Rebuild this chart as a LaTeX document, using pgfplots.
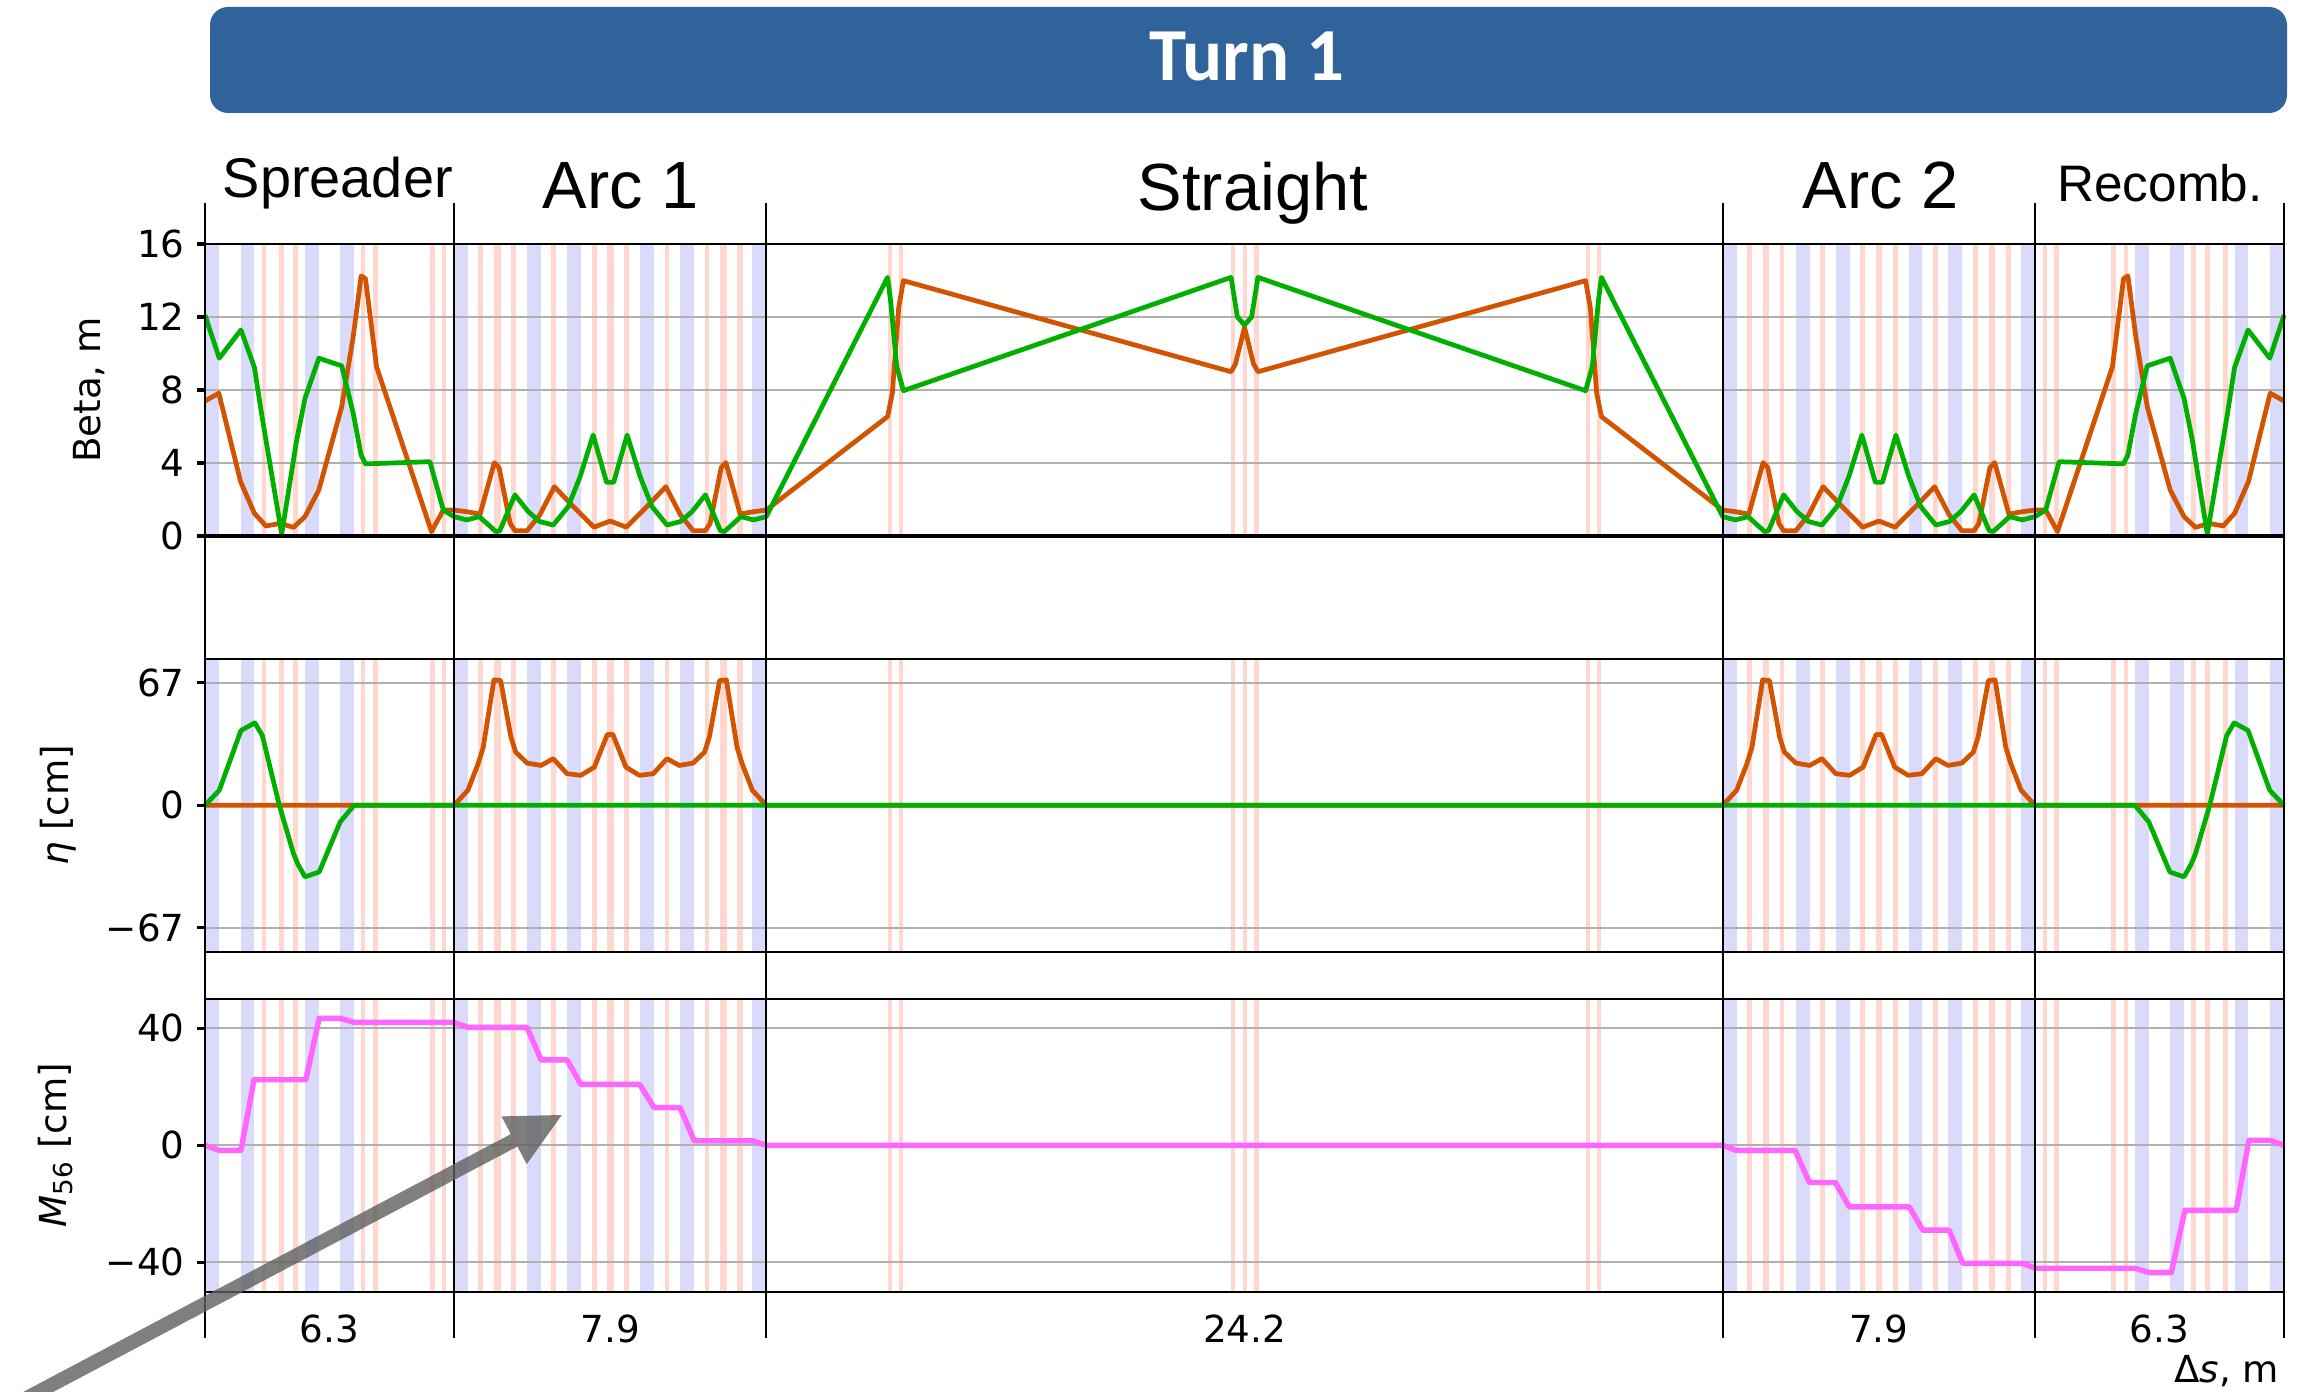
\documentclass[border=0pt]{standalone}
\usepackage{pgfplots}
\pgfplotsset{compat=1.18}
\usepackage{fontspec}
\setmainfont{DejaVu Sans}
\newfontfamily\arialfont{Liberation Sans}
\newfontfamily\calfont{Carlito}

\definecolor{cOrange}{RGB}{211,84,0}
\definecolor{cGreen}{RGB}{0,175,0}
\definecolor{cMag}{RGB}{255,102,255}
\definecolor{bandBlue}{RGB}{218,218,251}
\definecolor{bandPink}{RGB}{255,215,206}
\definecolor{gridGray}{RGB}{176,176,176}
\definecolor{bannerBlue}{RGB}{47,99,154}
\definecolor{arrowGray}{RGB}{95,95,95}

\newcommand\bb[2]{\fill[bandBlue] (axis cs:#1,\bandlo) rectangle (axis cs:#2,\bandhi);}
\newcommand\pb[2]{\fill[bandPink] (axis cs:#1,\bandlo) rectangle (axis cs:#2,\bandhi);}
\newcommand\hgrid[1]{\draw[gridGray, line width=0.55pt] (axis cs:0,#1) -- (axis cs:52.6,#1);}
\newcommand\allbands{%
 \bb{0}{0.35}\bb{0.90}{1.25}\bb{2.53}{2.88}\bb{3.42}{3.77}%
 \pb{1.43}{1.55}\pb{1.88}{1.99}\pb{2.23}{2.35}\pb{3.94}{4.06}\pb{4.25}{4.37}\pb{5.69}{5.81}\pb{6.00}{6.11}%
 \bb{6.30}{6.65}\bb{8.15}{8.50}\bb{9.16}{9.51}\bb{11.00}{11.35}\bb{12.01}{12.36}\bb{13.85}{14.20}%
 \pb{6.91}{7.04}\pb{7.31}{7.48}\pb{7.74}{7.86}\pb{8.76}{8.88}\pb{9.78}{9.91}\pb{10.17}{10.34}\pb{10.60}{10.73}\pb{11.63}{11.75}\pb{12.64}{12.76}\pb{13.03}{13.20}\pb{13.47}{13.60}%
 \pb{17.27}{17.38}\pb{17.56}{17.67}\pb{25.96}{26.07}\pb{26.25}{26.36}\pb{26.55}{26.66}\pb{34.93}{35.04}\pb{35.22}{35.33}%
 \bb{38.40}{38.75}\bb{40.25}{40.60}\bb{41.26}{41.61}\bb{43.10}{43.45}\bb{44.11}{44.46}\bb{45.95}{46.30}%
 \pb{39.01}{39.14}\pb{39.41}{39.58}\pb{39.84}{39.96}\pb{40.86}{40.98}\pb{41.88}{42.01}\pb{42.27}{42.44}\pb{42.70}{42.83}\pb{43.73}{43.85}\pb{44.74}{44.86}\pb{45.13}{45.30}\pb{45.57}{45.70}%
 \bb{48.83}{49.18}\bb{49.72}{50.07}\bb{51.35}{51.70}\bb{52.25}{52.60}%
 \pb{46.49}{46.60}\pb{46.79}{46.91}\pb{48.23}{48.35}\pb{48.54}{48.66}\pb{50.25}{50.37}\pb{50.61}{50.72}\pb{51.05}{51.17}%
}

\pgfplotsset{
 panel/.style={
  scale only axis, anchor=south west, width=20.79cm, xmin=0, xmax=52.6,
  xtick=\empty, ytick pos=left, tick align=outside, major tick length=0.08cm,
  every tick/.style={black, line width=0.9pt},
  axis line style={black, line width=0.55pt},
  tick label style={font=\fontsize{10.6}{12}\selectfont},
  label style={font=\fontsize{10.6}{12}\selectfont},
  /pgf/number format/assume math mode=true,
  axis on top, clip=false,
 },
 oline/.style={cOrange, line width=1.35pt, line join=round},
 gline/.style={cGreen, line width=1.35pt, line join=round},
}

\begin{document}
\begin{tikzpicture}[x=1cm,y=1cm]
\path[use as bounding box] (0,0) rectangle (23.06,13.92);
\clip (0,0) rectangle (23.06,13.92);

% title banner
\fill[bannerBlue, rounded corners=0.18cm] (2.10,12.79) rectangle (22.87,13.85);
\node[anchor=base, text=white, inner sep=0pt, font=\calfont\bfseries\fontsize{21.3}{25}\selectfont] at (12.47,13.11) {Turn 1};

% ---------- Beta panel ----------
\def\bandlo{0}\def\bandhi{16}
\begin{axis}[panel, at={(2.05cm,8.56cm)}, height=2.92cm, ymin=0, ymax=16,
  ytick={0,4,8,12,16}, yticklabels={0,4,8,12,16},
  ylabel={Beta, m}, ylabel style={at={(axis description cs:-0.0558,0.5)}, anchor=center}]
\allbands
\hgrid{4}\hgrid{8}\hgrid{12}
\addplot[oline] coordinates {
(0,7.40)(0.35,7.82)(0.90,2.98)(1.25,1.24)(1.54,0.55)(1.90,0.69)(2.24,0.47)(2.53,1.06)(2.88,2.52)(3.46,7.09)(3.75,10.92)(3.95,14.25)(4.06,14.10)(4.34,9.28)(5.73,0.24)(6.03,1.42)(6.30,1.42)
(6.62,1.33)(6.96,1.20)(7.32,4.02)(7.44,3.75)(7.72,0.69)(7.84,0.29)(8.15,0.29)(8.47,1.15)(8.84,2.70)(9.32,1.61)(9.84,0.48)(10.25,0.82)(10.66,0.48)(11.18,1.61)(11.66,2.70)(12.03,1.15)(12.35,0.29)(12.66,0.29)(12.78,0.69)(13.06,3.75)(13.18,4.02)(13.54,1.20)(13.88,1.33)(14.20,1.42)
(17.27,6.54)(17.39,7.82)(17.55,12.5)(17.67,13.99)(25.96,9.00)(26.07,9.42)(26.30,11.43)(26.53,9.42)(26.64,9.00)(34.93,13.99)(35.05,12.5)(35.21,7.82)(35.33,6.54)(38.40,1.42)
(38.72,1.33)(39.06,1.20)(39.42,4.02)(39.54,3.75)(39.82,0.69)(39.94,0.29)(40.25,0.29)(40.57,1.15)(40.94,2.70)(41.42,1.61)(41.94,0.48)(42.35,0.82)(42.76,0.48)(43.28,1.61)(43.76,2.70)(44.13,1.15)(44.45,0.29)(44.76,0.29)(44.88,0.69)(45.16,3.75)(45.28,4.02)(45.64,1.20)(45.98,1.33)(46.30,1.42)
(46.57,1.42)(46.87,0.24)(48.26,9.28)(48.54,14.10)(48.65,14.25)(48.85,10.92)(49.14,7.09)(49.72,2.52)(50.07,1.06)(50.36,0.47)(50.70,0.69)(51.06,0.55)(51.35,1.24)(51.70,2.98)(52.25,7.82)(52.60,7.40)
};
\addplot[gline] coordinates {
(0,12.10)(0.36,9.74)(0.91,11.29)(1.25,9.24)(1.43,6.72)(1.94,0.10)(2.32,5.26)(2.53,7.54)(2.88,9.74)(3.46,9.32)(3.75,6.72)(3.95,4.44)(4.06,3.95)(5.69,4.07)(6.03,1.42)(6.30,1.06)
(6.62,0.88)(6.94,1.06)(7.36,0.24)(7.46,0.29)(7.84,2.25)(8.18,1.33)(8.47,0.79)(8.81,0.60)(9.19,1.61)(9.49,3.25)(9.82,5.53)(10.16,2.94)(10.34,2.94)(10.68,5.53)(11.01,3.25)(11.31,1.61)(11.69,0.60)(12.03,0.79)(12.32,1.33)(12.66,2.25)(13.04,0.29)(13.14,0.24)(13.56,1.06)(13.88,0.88)(14.20,1.06)
(17.27,14.17)(17.35,12.8)(17.50,9.3)(17.67,7.96)(25.96,14.17)(26.12,12.0)(26.30,11.56)(26.48,12.0)(26.64,14.17)(34.93,7.96)(35.10,9.3)(35.25,12.8)(35.33,14.17)(38.40,1.06)
(38.72,0.88)(39.04,1.06)(39.46,0.24)(39.56,0.29)(39.94,2.25)(40.28,1.33)(40.57,0.79)(40.91,0.60)(41.29,1.61)(41.59,3.25)(41.92,5.53)(42.26,2.94)(42.44,2.94)(42.78,5.53)(43.11,3.25)(43.41,1.61)(43.79,0.60)(44.13,0.79)(44.42,1.33)(44.76,2.25)(45.14,0.29)(45.24,0.24)(45.66,1.06)(45.98,0.88)(46.30,1.06)
(46.57,1.42)(46.91,4.07)(48.54,3.95)(48.65,4.44)(48.85,6.72)(49.14,9.32)(49.72,9.74)(50.07,7.54)(50.28,5.26)(50.66,0.10)(51.17,6.72)(51.35,9.24)(51.69,11.29)(52.24,9.74)(52.60,12.10)
};
\draw[black, line width=1.3pt] (axis cs:0,0) -- (axis cs:52.6,0);
\end{axis}

% ---------- Eta panel ----------
\def\bandlo{-80}\def\bandhi{80}
\begin{axis}[panel, at={(2.05cm,4.403cm)}, height=2.927cm, ymin=-80, ymax=80,
  ytick={-67,0,67}, yticklabels={−67,0,67},
  ylabel={{\itshape η} [cm]}, ylabel style={at={(axis description cs:-0.0707,0.5)}, anchor=center}]
\allbands
\hgrid{-67}\hgrid{0}\hgrid{67}
\addplot[oline] coordinates {
(0,0)(6.30,0)(6.65,8.2)(6.91,22.7)(7.04,31.8)(7.31,68.6)(7.48,68.2)(7.74,37.3)(7.86,29.1)(8.15,23.1)(8.50,21.8)(8.81,25.5)(9.16,17.3)(9.51,16.4)(9.85,20.9)(10.18,38.7)(10.32,38.7)(10.65,20.9)(10.99,16.4)(11.34,17.3)(11.69,25.5)(12.00,21.8)(12.35,23.1)(12.64,29.1)(12.76,37.3)(13.02,68.2)(13.19,68.6)(13.46,31.8)(13.59,22.7)(13.85,8.2)(14.20,0)(38.40,0)
(38.75,8.2)(39.01,22.7)(39.14,31.8)(39.41,68.6)(39.58,68.2)(39.84,37.3)(39.96,29.1)(40.25,23.1)(40.60,21.8)(40.91,25.5)(41.26,17.3)(41.61,16.4)(41.95,20.9)(42.28,38.7)(42.42,38.7)(42.75,20.9)(43.09,16.4)(43.44,17.3)(43.79,25.5)(44.10,21.8)(44.45,23.1)(44.74,29.1)(44.86,37.3)(45.12,68.2)(45.29,68.6)(45.56,31.8)(45.69,22.7)(45.95,8.2)(46.30,0)(52.60,0)
};
\addplot[gline] coordinates {
(0,0)(0.36,8.2)(0.91,40.9)(1.26,45.1)(1.45,38.2)(1.88,0)(2.24,-26.4)(2.35,-32.2)(2.53,-39.1)(2.89,-36.4)(3.42,-9.1)(3.77,0)
(48.83,0)(49.18,-9.1)(49.71,-36.4)(50.07,-39.1)(50.25,-32.2)(50.36,-26.4)(50.72,0)(51.15,38.2)(51.34,45.1)(51.69,40.9)(52.24,8.2)(52.60,0)
};
\end{axis}

% ---------- M56 panel ----------
\def\bandlo{-50}\def\bandhi{50}
\begin{axis}[panel, at={(2.05cm,1.003cm)}, height=2.927cm, ymin=-50, ymax=50,
  ytick={-40,0,40}, yticklabels={−40,0,40},
  ylabel={{\itshape M}\textsubscript{56} [cm]}, ylabel style={at={(axis description cs:-0.0717,0.5)}, anchor=center}]
\allbands
\hgrid{-40}\hgrid{0}\hgrid{40}
\addplot[cMag, line width=1.55pt, line join=round] coordinates {
(0,0)(0.36,-1.7)(0.91,-1.7)(1.24,22.4)(2.55,22.4)(2.89,43.4)(3.43,43.4)(3.77,42.0)(6.30,42.0)(6.65,40.3)(8.15,40.3)(8.50,29.2)(9.16,29.2)(9.51,20.8)(11.00,20.8)(11.36,12.9)(12.02,12.9)(12.38,1.5)(13.87,1.5)(14.20,0)
(38.40,0)(38.73,-1.7)(40.23,-1.7)(40.59,-12.7)(41.25,-12.7)(41.60,-21.0)(43.12,-21.0)(43.46,-29.0)(44.13,-29.0)(44.47,-40.3)(45.98,-40.3)(46.31,-42.0)(48.84,-42.0)(49.19,-43.5)(49.75,-43.5)(50.09,-22.2)(51.39,-22.2)(51.71,1.7)(52.26,1.7)(52.60,0)
};
\end{axis}

% ---------- overlay: dividers and section labels ----------
\begin{axis}[at={(2.05cm,0.54cm)}, anchor=south west, scale only axis, width=20.79cm, height=11.35cm,
  xmin=0, xmax=52.6, ymin=0, ymax=1, hide axis, clip=false]
\draw[black, line width=0.45pt] (axis cs:0,0) -- (axis cs:0,1);
\draw[black, line width=0.45pt] (axis cs:6.3,0) -- (axis cs:6.3,1);
\draw[black, line width=0.45pt] (axis cs:14.2,0) -- (axis cs:14.2,1);
\draw[black, line width=0.45pt] (axis cs:38.4,0) -- (axis cs:38.4,1);
\draw[black, line width=0.45pt] (axis cs:46.3,0) -- (axis cs:46.3,1);
\draw[black, line width=0.45pt] (axis cs:52.6,0) -- (axis cs:52.6,1);
\node[anchor=base, inner sep=0pt, font=\arialfont\fontsize{15.9}{18}\selectfont] at (axis cs:3.36,1.0044) {Spreader};
\node[anchor=base, inner sep=0pt, font=\arialfont\fontsize{19}{22}\selectfont] at (axis cs:10.52,0.9947) {Arc 1};
\node[anchor=base, inner sep=0pt, font=\arialfont\fontsize{19}{22}\selectfont] at (axis cs:26.51,0.9938) {Straight};
\node[anchor=base, inner sep=0pt, font=\arialfont\fontsize{19}{22}\selectfont] at (axis cs:42.40,0.9947) {Arc 2};
\node[anchor=base, inner sep=0pt, font=\arialfont\fontsize{14.6}{17}\selectfont] at (axis cs:49.46,1.0011) {Recomb.};
\node[anchor=base, inner sep=0pt, font=\fontsize{10.6}{12}\selectfont] at (axis cs:3.15,-0.0044) {6.3};
\node[anchor=base, inner sep=0pt, font=\fontsize{10.6}{12}\selectfont] at (axis cs:10.25,-0.0044) {7.9};
\node[anchor=base, inner sep=0pt, font=\fontsize{10.6}{12}\selectfont] at (axis cs:26.30,-0.0044) {24.2};
\node[anchor=base, inner sep=0pt, font=\fontsize{10.6}{12}\selectfont] at (axis cs:42.35,-0.0044) {7.9};
\node[anchor=base, inner sep=0pt, font=\fontsize{10.6}{12}\selectfont] at (axis cs:49.45,-0.0044) {6.3};
\node[anchor=base east, inner sep=0pt, font=\fontsize{10.6}{12}\selectfont] at (axis cs:52.49,-0.0396) {Δ{\itshape s}, m};
\end{axis}

% annotation arrow
\fill[arrowGray, opacity=0.8] (-0.153,-0.203) -- (5.108,2.579) -- (5.015,2.756) -- (5.618,2.770) -- (5.267,2.278) -- (5.174,2.455) -- (-0.087,-0.327) -- cycle;
\end{tikzpicture}
\end{document}
